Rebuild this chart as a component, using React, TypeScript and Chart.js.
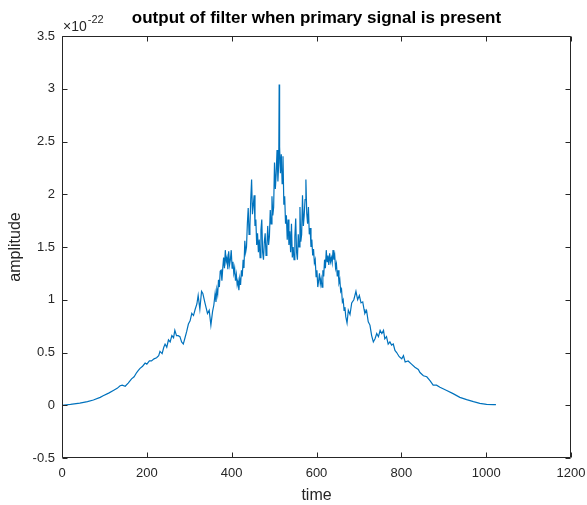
import React, { useEffect, useRef } from "react";
import { Chart, registerables } from "chart.js";

Chart.register(...registerables);

// time samples (x) and filter output amplitude in units of 1e-22 (y)
const times = [
  0, 20, 42, 60, 74, 90, 97, 110, 121, 130, 137, 142, 149, 156, 164, 170, 176, 180, 184, 190,
  196, 200, 206, 211, 217, 223, 228, 231, 236, 240, 243, 247, 251, 255, 259, 263, 266, 270, 274, 278,
  282, 286, 290, 294, 298, 302, 306, 310, 314, 318, 321, 325, 329, 332, 337, 340, 343, 347, 351, 355,
  358, 361, 363, 365, 367, 369, 371, 373, 375, 377, 379, 381, 383, 385, 387, 389, 391, 393, 395, 397,
  399, 401, 403, 405, 407, 409, 411, 413, 415, 417, 419, 421, 423, 425, 427, 429, 431, 433, 435, 437,
  439, 441, 443, 445, 447, 449, 451, 453, 455, 457, 459, 461, 463, 465, 467, 469, 471, 473, 475, 477,
  479, 481, 483, 485, 487, 489, 491, 493, 495, 497, 499, 501, 503, 505, 507, 509, 511, 512, 513, 515,
  517, 519, 521, 523, 525, 527, 529, 531, 533, 535, 537, 539, 541, 543, 545, 547, 549, 551, 553, 555,
  557, 559, 561, 563, 565, 567, 569, 571, 573, 575, 577, 579, 581, 583, 585, 587, 589, 591, 593, 595,
  597, 599, 601, 603, 605, 607, 609, 611, 613, 615, 617, 619, 621, 623, 625, 627, 629, 631, 633, 635,
  637, 639, 641, 643, 645, 647, 649, 651, 653, 655, 657, 659, 661, 663, 665, 667, 669, 672, 675, 679,
  683, 688, 693, 697, 701, 705, 709, 712, 714, 718, 722, 726, 730, 734, 738, 742, 746, 750, 754, 758,
  761, 765, 769, 773, 777, 781, 785, 789, 795, 801, 805, 809, 816, 824, 832, 840, 844, 852, 860, 868,
  875, 883, 891, 907, 922, 938, 954, 970, 985, 1001, 1017, 1023,
];

const amplitudes = [
  0.0, 0.008, 0.02, 0.035, 0.05, 0.075, 0.09, 0.115, 0.14, 0.16, 0.185, 0.19, 0.18, 0.21, 0.25, 0.27, 0.31, 0.33, 0.35, 0.37,
  0.4, 0.39, 0.42, 0.42, 0.44, 0.45, 0.47, 0.51, 0.49, 0.55, 0.58, 0.55, 0.62, 0.6, 0.66, 0.64, 0.71, 0.66, 0.66, 0.65,
  0.6, 0.58, 0.64, 0.7, 0.77, 0.8, 0.87, 0.85, 0.91, 0.96, 1.04, 0.91, 1.08, 1.06, 0.97, 0.92, 0.87, 0.9, 0.76, 0.89,
  0.95, 1.06, 0.98, 1.1, 1.05, 1.19, 1.12, 1.27, 1.28, 1.18, 1.3, 1.4, 1.3, 1.47, 1.36, 1.4, 1.29, 1.46, 1.33, 1.38,
  1.47, 1.3, 1.36, 1.25, 1.3, 1.18, 1.24, 1.14, 1.18, 1.09, 1.2, 1.14, 1.28, 1.22, 1.38, 1.3, 1.56, 1.45, 1.5, 1.72,
  1.87, 1.62, 1.69, 1.95, 2.14, 1.81, 1.9, 1.99, 1.7, 1.76, 1.52, 1.63, 1.45, 1.57, 1.4, 1.66, 1.76, 1.45, 1.38, 1.55,
  1.63, 1.42, 1.5, 1.7, 1.52, 1.6, 1.85, 1.72, 1.98, 1.8, 1.88, 2.3, 2.05, 2.2, 2.42, 2.12, 2.3, 3.04, 2.45, 2.2,
  2.38, 2.1, 2.36, 1.9, 1.98, 1.72, 1.8, 1.57, 1.76, 1.52, 1.65, 1.45, 1.72, 1.4, 1.5, 1.38, 1.6, 1.77, 1.45, 1.38,
  1.62, 1.5, 1.88, 1.55, 1.62, 1.99, 1.7, 1.8, 1.95, 2.14, 1.82, 1.72, 1.88, 1.62, 1.68, 1.5, 1.57, 1.42, 1.48, 1.35,
  1.38, 1.22, 1.28, 1.12, 1.18, 1.25, 1.15, 1.2, 1.12, 1.28, 1.22, 1.38, 1.3, 1.47, 1.36, 1.42, 1.33, 1.44, 1.36, 1.4,
  1.35, 1.47, 1.38, 1.42, 1.3, 1.34, 1.22, 1.28, 1.16, 1.19, 1.08, 1.1, 0.98, 1.0, 0.9, 0.93, 0.84, 0.78, 0.9, 0.86,
  0.97, 1.0, 1.08, 1.0, 1.04, 0.97, 0.98, 0.91, 0.87, 0.9, 0.79, 0.76, 0.66, 0.6, 0.63, 0.68, 0.65, 0.71, 0.68, 0.71,
  0.63, 0.65, 0.58, 0.6, 0.57, 0.58, 0.52, 0.5, 0.46, 0.44, 0.47, 0.41, 0.42, 0.39, 0.36, 0.34, 0.31, 0.28, 0.27, 0.23,
  0.19, 0.19, 0.17, 0.14, 0.11, 0.075, 0.053, 0.034, 0.018, 0.008, 0.005, 0.005,
];

const xTickValues = [0, 200, 400, 600, 800, 1000, 1200];
const yTickValues = [-0.5, 0, 0.5, 1, 1.5, 2, 2.5, 3, 3.5];

const titleText = "output of filter when primary signal is present";
const xLabelText = "time";
const yLabelText = "amplitude";
const exponentText = "-22";

const FONT = "'Liberation Sans', Arial, Helvetica, sans-serif";
const AXIS_COLOR = "#262626";
const LINE_COLOR = "#0072BD";

export default function App() {
  const canvasRef = useRef<HTMLCanvasElement | null>(null);

  useEffect(() => {
    const canvas = canvasRef.current;
    if (!canvas) return;

    const matlabAxes = {
      id: "matlabAxes",
      afterDraw(chart: any) {
        const { ctx, chartArea: a } = chart;
        const xs = chart.scales.x;
        const ys = chart.scales.y;
        const L = Math.round(a.left) + 0.5;
        const R = Math.round(a.right) - 0.5;
        const T = Math.round(a.top) + 0.5;
        const B = Math.round(a.bottom) - 0.5;
        const tl = 5;
        ctx.save();
        ctx.strokeStyle = AXIS_COLOR;
        ctx.lineWidth = 1;
        ctx.beginPath();
        ctx.rect(L, T, R - L, B - T);
        for (const v of xTickValues) {
          const px = Math.round(xs.getPixelForValue(v)) + 0.5;
          ctx.moveTo(px, B);
          ctx.lineTo(px, B - tl);
          ctx.moveTo(px, T);
          ctx.lineTo(px, T + tl);
        }
        for (const v of yTickValues) {
          const py = Math.round(ys.getPixelForValue(v)) + 0.5;
          ctx.moveTo(L, py);
          ctx.lineTo(L + tl, py);
          ctx.moveTo(R, py);
          ctx.lineTo(R - tl, py);
        }
        ctx.stroke();

        ctx.fillStyle = AXIS_COLOR;
        // exponent marker
        ctx.textBaseline = "alphabetic";
        ctx.textAlign = "left";
        ctx.font = `14px ${FONT}`;
        ctx.fillText("\u00d710", 63, 31);
        const w = ctx.measureText("\u00d710").width;
        ctx.font = `11px ${FONT}`;
        ctx.fillText(exponentText, 63 + w + 1, 23);

        // title
        ctx.font = `bold 17px ${FONT}`;
        ctx.textAlign = "center";
        ctx.textBaseline = "middle";
        ctx.fillStyle = "#000000";
        ctx.fillText(titleText, (a.left + a.right) / 2, 18);

        // axis labels
        ctx.fillStyle = AXIS_COLOR;
        ctx.font = `16px ${FONT}`;
        ctx.fillText(xLabelText, (a.left + a.right) / 2, 496);
        ctx.save();
        ctx.translate(16, (a.top + a.bottom) / 2);
        ctx.rotate(-Math.PI / 2);
        ctx.fillText(yLabelText, 0, 0);
        ctx.restore();
        ctx.restore();
      },
    };

    const chart = new Chart(canvas, {
      type: "line",
      data: {
        datasets: [
          {
            data: times.map((t, i) => ({ x: t, y: amplitudes[i] })),
            borderColor: LINE_COLOR,
            borderWidth: 1.2,
            pointRadius: 0,
            tension: 0,
            fill: false,
          },
        ],
      },
      options: {
        animation: false,
        responsive: false,
        maintainAspectRatio: false,
        devicePixelRatio: 1,
        layout: { padding: { top: 36, right: 16, left: 0, bottom: 0 } },
        plugins: {
          legend: { display: false },
          title: { display: false },
          tooltip: { enabled: false },
        },
        scales: {
          x: {
            type: "linear",
            min: 0,
            max: 1200,
            afterBuildTicks: (scale: any) => {
              scale.ticks = xTickValues.map((v) => ({ value: v }));
            },
            afterFit: (scale: any) => {
              scale.height = 47;
              scale.paddingLeft = 0;
              scale.paddingRight = 0;
            },
            grid: { display: false, drawTicks: false },
            border: { display: false },
            ticks: {
              color: AXIS_COLOR,
              font: { family: FONT, size: 13 },
              padding: 8,
              maxRotation: 0,
              autoSkip: false,
              callback: (v: any) => String(v),
            },
          },
          y: {
            type: "linear",
            min: -0.5,
            max: 3.5,
            afterBuildTicks: (scale: any) => {
              scale.ticks = yTickValues.map((v) => ({ value: v }));
            },
            afterFit: (scale: any) => {
              scale.width = 62;
              scale.paddingTop = 0;
              scale.paddingBottom = 0;
            },
            grid: { display: false, drawTicks: false },
            border: { display: false },
            ticks: {
              color: AXIS_COLOR,
              font: { family: FONT, size: 13 },
              padding: 7,
              autoSkip: false,
              callback: (v: any) => String(v),
            },
          },
        },
      },
      plugins: [matlabAxes],
    });

    return () => {
      chart.destroy();
    };
  }, []);

  return (
    <div style={{ position: "fixed", left: 0, top: 0, width: 587, height: 505, background: "#ffffff" }}>
      <canvas ref={canvasRef} width={587} height={505} style={{ width: 587, height: 505, display: "block" }} />
    </div>
  );
}
